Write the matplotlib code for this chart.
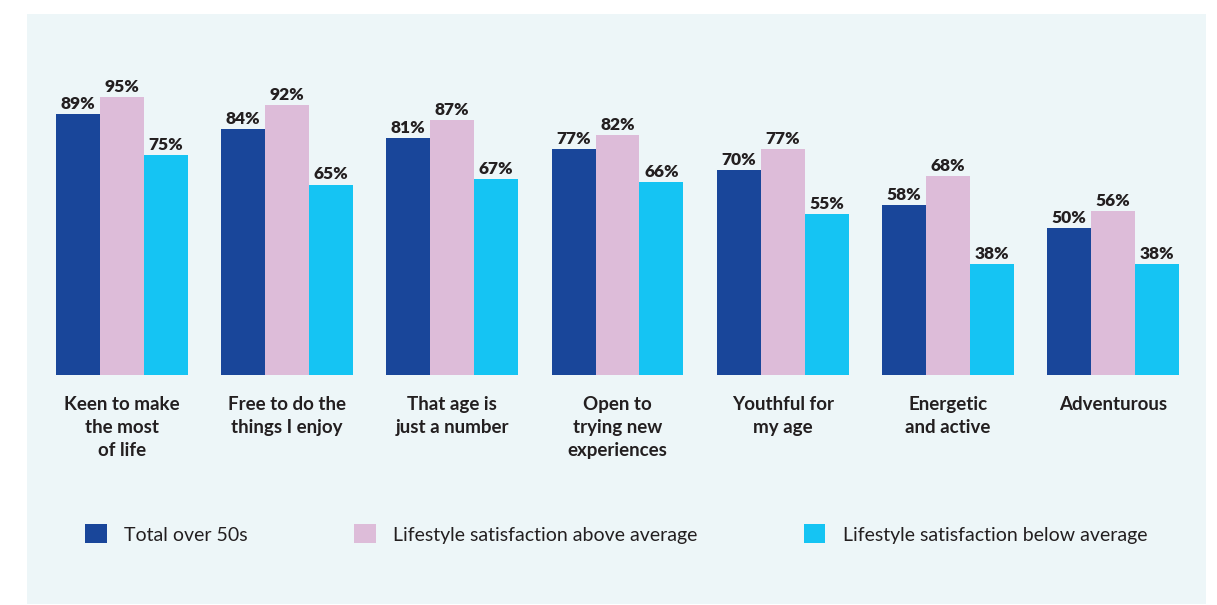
import matplotlib
matplotlib.use('Agg')
import matplotlib.pyplot as plt
import numpy as np
from matplotlib.patches import Rectangle

plt.rcParams['font.family'] = ['Lato', 'DejaVu Sans']

# ==================== 数据 ====================
categories = ['Keen to make\nthe most\nof life', 'Free to do the\nthings I enjoy',
              'That age is\njust a number', 'Open to\ntrying new\nexperiences',
              'Youthful for\nmy age', 'Energetic\nand active', 'Adventurous']
total_50s = [89, 84, 81, 77, 70, 58, 50]
above_avg = [95, 92, 87, 82, 77, 68, 56]
below_avg = [75, 65, 67, 66, 55, 38, 38]
series_names = ['Total over 50s', 'Lifestyle satisfaction above average',
                'Lifestyle satisfaction below average']

colors = ['#19469A', '#DDBCD9', '#15C4F3']
bg = '#EDF6F8'
text_c = '#231F20'

W, H = 1217, 605
fig = plt.figure(figsize=(W / 100, H / 100), dpi=100)
fig.patch.set_facecolor('white')
# 背景面板
fig.patches.append(Rectangle((27 / W, 1 - 604 / H), (1206 - 27) / W, (604 - 14) / H,
                             transform=fig.transFigure, facecolor=bg, edgecolor='none', zorder=-1))

ax = fig.add_axes([27 / W, 1 - 375 / H, (1206 - 27) / W, (375 - 14) / H])
ax.set_facecolor('none')

x = np.arange(len(categories))
w = 0.266
bars = []
for k, vals in enumerate([total_50s, above_avg, below_avg]):
    b = ax.bar(x + (k - 1) * w, vals, w, color=colors[k], label=series_names[k])
    bars.append(b)
    for xi, v in zip(x + (k - 1) * w, vals):
        ax.annotate(f'{v}%', (xi, v), xytext=(0, 1.5), textcoords='offset points',
                    ha='center', va='bottom', fontsize=12.5, fontweight='heavy', color=text_c)

ax.set_xlim(-0.574, 6.562)
ax.set_ylim(0, 123.2)
ax.set_xticks(x)
ax.set_xticklabels(categories, fontsize=13.5, fontweight='bold', color=text_c, linespacing=1.42)
ax.tick_params(axis='x', length=0, pad=15)
ax.set_yticks([])
for s in ax.spines.values():
    s.set_visible(False)

fig.legend(handles=bars, labels=series_names, loc='center left',
           bbox_to_anchor=(85 / W, 1 - 534 / H), ncol=3, frameon=False,
           fontsize=14, handlelength=1.13, handleheight=1.13, handletextpad=0.88,
           columnspacing=5.46, borderpad=0, borderaxespad=0, labelcolor=text_c)

fig.savefig('out.png', dpi=100, facecolor='white')
